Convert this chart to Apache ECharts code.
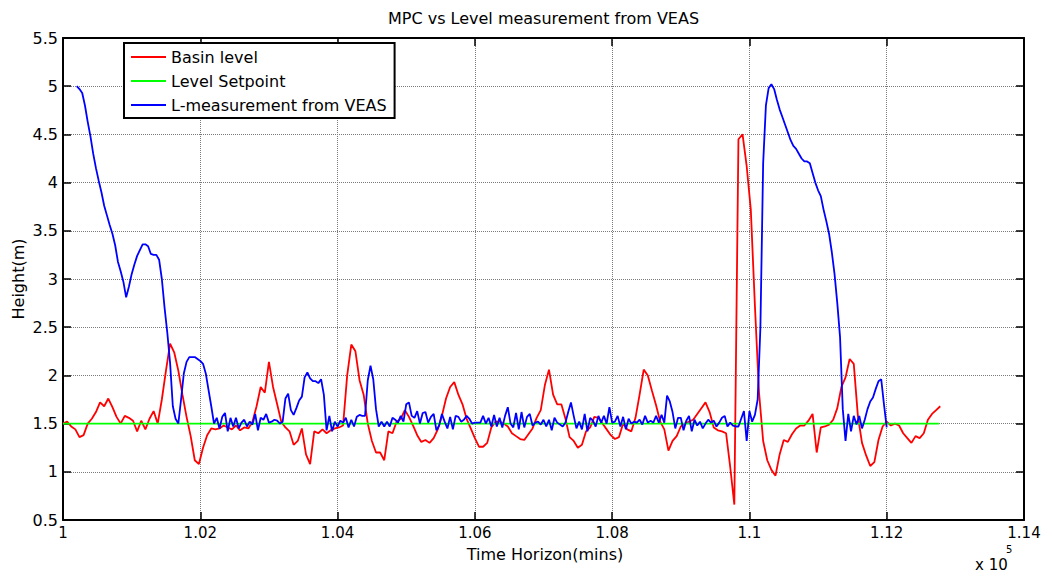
<!DOCTYPE html>
<html><head><meta charset="utf-8">
<script src="https://cdn.jsdelivr.net/npm/echarts@6/dist/echarts.min.js"></script>
<style>html,body{margin:0;padding:0;background:#fff}#c{width:1055px;height:573px}</style>
</head><body><div id="c"></div>
<script>
// ---- data (x in minutes, shown on axis as x 10^5) ----
const xTickLabels = ['1','1.02','1.04','1.06','1.08','1.1','1.12','1.14'];
const yTickLabels = ['0.5','1','1.5','2','2.5','3','3.5','4','4.5','5','5.5'];
const seriesNames = ['Basin level','Level Setpoint','L-measurement from VEAS'];

const basinStart = 100000, basinStep = 60;
const basinLevel = [
1.50,1.52,1.47,1.44,1.36,1.38,1.50,1.55,1.62,1.72,
1.68,1.76,1.67,1.57,1.50,1.58,1.56,1.53,1.42,1.53,
1.44,1.55,1.63,1.50,1.75,2.05,2.33,2.24,2.05,1.80,
1.57,1.37,1.12,1.08,1.25,1.38,1.45,1.44,1.45,1.48,
1.46,1.44,1.48,1.43,1.46,1.45,1.52,1.68,1.88,1.82,
2.14,1.88,1.70,1.52,1.46,1.42,1.28,1.32,1.45,1.18,
1.08,1.42,1.40,1.44,1.40,1.43,1.45,1.46,1.48,2.00,
2.32,2.25,1.95,1.80,1.50,1.32,1.20,1.20,1.12,1.42,
1.40,1.52,1.55,1.64,1.57,1.48,1.38,1.31,1.33,1.30,
1.35,1.44,1.58,1.76,1.88,1.93,1.80,1.70,1.55,1.45,
1.35,1.26,1.26,1.30,1.46,1.52,1.52,1.50,1.47,1.40,
1.37,1.34,1.33,1.39,1.45,1.56,1.64,1.90,2.06,1.80,
1.70,1.70,1.55,1.36,1.32,1.25,1.28,1.42,1.46,1.57,
1.56,1.50,1.44,1.38,1.34,1.36,1.50,1.44,1.42,1.56,
1.80,2.06,2.00,1.84,1.69,1.52,1.44,1.22,1.32,1.37,
1.47,1.50,1.52,1.54,1.60,1.66,1.72,1.62,1.46,1.43,
1.42,1.40,1.05,0.66,4.45,4.50,4.17,3.72,2.72,1.82,
1.32,1.12,1.02,0.96,1.18,1.33,1.31,1.39,1.45,1.48,
1.48,1.53,1.60,1.20,1.46,1.47,1.49,1.54,1.66,1.88,
1.98,2.17,2.12,1.58,1.30,1.17,1.06,1.10,1.33,1.47,
1.52,1.48,1.50,1.48,1.40,1.35,1.30,1.37,1.35,1.40,
1.54,1.60,1.64,1.68
];

const setpointTimes = [100000, 112760];
const setpointLevel = [1.5, 1.5];

const veasStart = 100200, veasStep = 40;
const veasLevel = [
5.00,4.97,4.93,4.80,4.63,4.48,4.30,4.15,4.02,3.90,
3.76,3.66,3.56,3.47,3.35,3.18,3.08,2.97,2.81,2.92,
3.05,3.15,3.24,3.30,3.36,3.36,3.34,3.26,3.25,3.25,
3.20,3.00,2.70,2.44,2.13,1.68,1.55,1.50,1.75,2.02,
2.14,2.19,2.19,2.19,2.17,2.15,2.12,2.02,1.85,1.68,
1.50,1.56,1.45,1.57,
1.61,1.42,1.56,1.47,1.56,1.45,1.51,1.54,1.47,1.52,
1.49,1.60,1.43,1.56,1.54,1.60,1.51,1.52,1.54,1.53,
1.50,1.52,1.76,1.81,1.64,1.59,1.66,1.74,1.78,1.98,
2.03,1.97,1.94,1.94,1.92,1.96,1.80,1.43,1.58,1.42,
1.52,1.47,1.53,1.51,1.56,1.46,1.54,1.47,1.57,1.59,
1.58,1.58,1.95,2.10,1.96,1.65,1.47,1.52,1.47,1.52,1.47,1.56,
1.54,1.51,1.58,1.52,1.70,1.72,1.58,1.56,1.63,1.50,
1.61,1.62,1.51,1.57,1.60,1.43,1.48,1.60,1.52,1.45,
1.57,1.44,1.58,1.57,1.52,1.54,1.58,1.55,1.50,1.51,
1.51,1.51,1.58,1.50,1.56,1.47,1.59,1.47,1.56,1.46,
1.58,1.67,1.50,1.46,1.61,1.44,1.62,1.46,1.57,1.60,
1.48,1.51,1.52,1.49,1.54,1.47,1.54,1.43,1.56,1.51,1.49,
1.47,1.51,1.62,1.72,1.58,1.45,1.52,1.44,1.60,1.42,
1.56,1.53,1.47,1.58,1.51,1.58,1.50,1.67,1.51,1.52,
1.58,1.47,1.57,1.44,1.55,1.50,1.52,1.51,1.54,1.49,
1.58,1.51,1.53,1.51,1.58,1.51,1.59,1.51,1.79,1.73,
1.62,1.45,1.56,1.56,1.43,1.53,1.58,1.42,1.54,1.48,
1.52,1.45,1.50,1.54,1.51,1.53,1.47,
1.51,1.56,
1.58,1.47,1.51,1.48,1.47,1.47,1.55,1.63,1.32,1.63,1.52,1.59,
1.75,2.50,4.20,4.80,4.98,5.02,4.97,4.86,4.76,4.68,4.60,4.52,
4.44,4.38,4.35,4.30,4.25,4.22,4.22,4.20,4.10,4.00,3.92,3.86,
3.72,3.60,3.47,3.28,3.05,2.75,2.40,1.65,1.32,1.60,1.42,1.58,
1.49,1.58,1.45,1.54,1.65,1.73,1.77,1.86,1.94,1.96,1.70,1.46
];

// ---- build chart ----
const FONT = 'DejaVu Sans';
const xMin = 100000, xMax = 114000, xInt = 2000;
const basinData = basinLevel.map((v, i) => [basinStart + i * basinStep, v]);
const veasData = veasLevel.map((v, i) => [veasStart + i * veasStep, v]);
const setData = setpointLevel.map((v, i) => [setpointTimes[i], v]);

const axisLine = {show: true, onZero: false, lineStyle: {color: '#000', width: 2}};
const tick = {show: true, inside: true, length: 8, lineStyle: {color: '#000', width: 1.5}};
const grid = {show: true, lineStyle: {color: '#7a7a7a', type: 'dotted', width: 1}};

const chart = echarts.init(document.getElementById('c'), null, {renderer: 'svg'});
chart.setOption({
  animation: false,
  backgroundColor: '#fff',
  grid: {left: 63, right: 31, top: 38, bottom: 53, containLabel: false},
  xAxis: [
    {type: 'value', min: xMin, max: xMax, interval: xInt, position: 'bottom',
     axisLine, axisTick: tick, splitLine: grid,
     axisLabel: {margin: 5, color: '#000', fontSize: 15, fontFamily: FONT,
       formatter: v => xTickLabels[Math.round((v - xMin) / xInt)]}},
    {type: 'value', min: xMin, max: xMax, interval: xInt, position: 'top',
     axisLine, axisTick: tick, splitLine: {show: false}, axisLabel: {show: false}}
  ],
  yAxis: [
    {type: 'value', min: 0.5, max: 5.5, interval: 0.5, position: 'left',
     axisLine, axisTick: tick, splitLine: grid,
     axisLabel: {margin: 5, color: '#000', fontSize: 16, fontFamily: FONT,
       formatter: v => yTickLabels[Math.round((v - 0.5) / 0.5)]}},
    {type: 'value', min: 0.5, max: 5.5, interval: 0.5, position: 'right',
     axisLine, axisTick: tick, splitLine: {show: false}, axisLabel: {show: false}}
  ],
  legend: {
    orient: 'vertical', left: 124, top: 43,
    itemWidth: 35, itemHeight: 2, itemGap: 6, icon: 'rect',
    padding: [5, 8, 4, 7],
    borderColor: '#000', borderWidth: 2, backgroundColor: '#fff',
    textStyle: {fontFamily: FONT, fontSize: 16, color: '#000', lineHeight: 18},
    data: seriesNames
  },
  series: [
    {name: seriesNames[0], type: 'line', data: basinData, showSymbol: false, symbol: 'none',
     lineStyle: {color: '#ff0000', width: 1.8}, itemStyle: {color: '#ff0000'}, z: 2},
    {name: seriesNames[1], type: 'line', data: setData, showSymbol: false, symbol: 'none',
     lineStyle: {color: '#00ff00', width: 1.8}, itemStyle: {color: '#00ff00'}, z: 3},
    {name: seriesNames[2], type: 'line', data: veasData, showSymbol: false, symbol: 'none',
     lineStyle: {color: '#0000ff', width: 1.8}, itemStyle: {color: '#0000ff'}, z: 4}
  ],
  graphic: [
    {type: 'text', x: 543.5, y: 18, style: {text: 'MPC vs Level measurement from VEAS',
      font: '16px "' + FONT + '"', fill: '#000', align: 'center', verticalAlign: 'middle'}},
    {type: 'text', x: 545, y: 554, style: {text: 'Time Horizon(mins)',
      font: '16px "' + FONT + '"', fill: '#000', align: 'center', verticalAlign: 'middle'}},
    {type: 'text', x: 18, y: 279, rotation: Math.PI / 2, style: {text: 'Height(m)',
      font: '16px "' + FONT + '"', fill: '#000', align: 'center', verticalAlign: 'middle'}},
    {type: 'text', x: 975, y: 565, style: {text: 'x 10',
      font: '15px "' + FONT + '"', fill: '#000', align: 'left', verticalAlign: 'middle'}},
    {type: 'text', x: 1006, y: 549, style: {text: '5',
      font: '10px "' + FONT + '"', fill: '#000', align: 'left', verticalAlign: 'middle'}}
  ]
});
</script>
</body></html>
